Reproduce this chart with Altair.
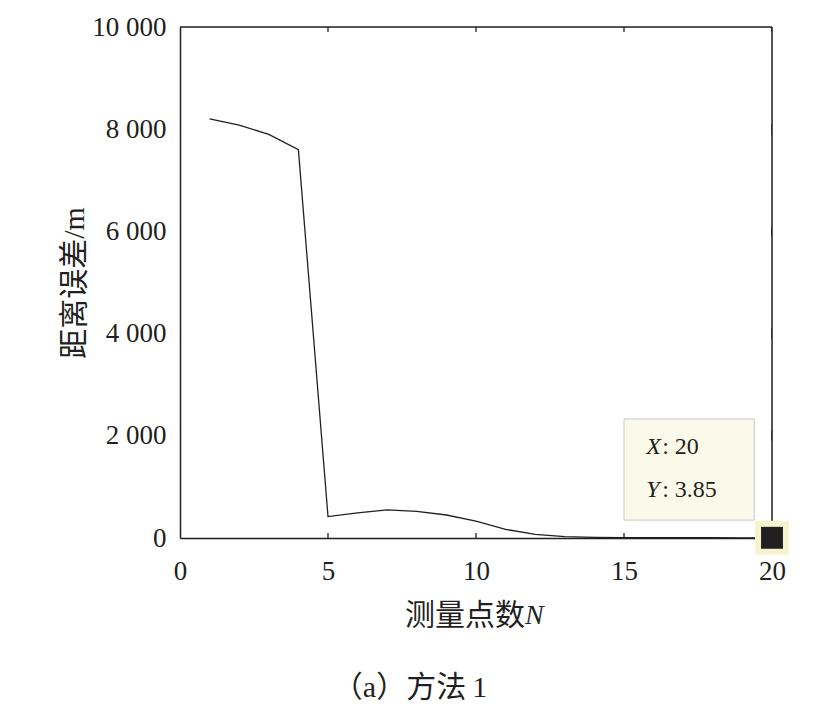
import altair as alt
import pandas as pd

n_points = list(range(1, 21))
dist_err = [8200, 8080, 7900, 7600, 420, 490, 550, 520, 450, 330,
            170, 70, 25, 12, 8, 6, 5, 4.5, 4.2, 3.85]

tip_x = 20
tip_y = 3.85

x_ticks = [0, 5, 10, 15, 20]
y_ticks = [0, 2000, 4000, 6000, 8000, 10000]

FONT = "'Liberation Serif', 'Times New Roman', 'Noto Sans CJK SC'"
INK = "#231f20"

df = pd.DataFrame({"N": n_points, "err": dist_err})
tip = pd.DataFrame({"N": [tip_x], "err": [tip_y]})
box = pd.DataFrame({"x1": [15.0], "x2": [19.4], "y1": [350], "y2": [2330]})
labels = pd.DataFrame({
    "x": [15.75, 15.75],
    "y": [1790, 940],
    "k": ["X", "Y"],
    "v": [": 20", ": 3.85"],
})
xt = pd.DataFrame({"v": x_ticks, "lo": [0] * len(x_ticks), "hi": [10000] * len(x_ticks)})
yt = pd.DataFrame({"v": y_ticks, "lo": [0] * len(y_ticks), "hi": [20] * len(y_ticks)})
frame = pd.DataFrame({"x1": [0, 20], "x2": [20, 20], "y1": [10000, 0], "y2": [10000, 10000]})

xs = alt.Scale(domain=[0, 20], nice=False)
ys = alt.Scale(domain=[0, 10000], nice=False)

fmt = "replace(format(datum.value, ','), ',', ' ')"

line = alt.Chart(df).mark_line(color=INK, strokeWidth=1.3, clip=True).encode(
    x=alt.X("N:Q", scale=xs, axis=alt.Axis(
        values=x_ticks, title=None, ticks=False, domain=True, domainColor=INK,
        domainWidth=1.5, grid=False,
        labelFlush=False, labelPadding=20, labelFontSize=27, labelFont=FONT,
        labelColor=INK)),
    y=alt.Y("err:Q", scale=ys, axis=alt.Axis(
        values=y_ticks, title="距离误差/m", ticks=False, domain=True, domainColor=INK,
        domainWidth=1.5, grid=False,
        labelFlush=False, labelExpr=fmt, labelPadding=14, labelFontSize=27,
        labelFont=FONT, labelColor=INK, titleFont=FONT, titleFontSize=30,
        titleFontWeight="normal", titleColor=INK, titlePadding=2)),
)

# top and right edges of the box
edges = alt.Chart(frame).mark_rule(color=INK, strokeWidth=1.5).encode(
    x=alt.X("x1:Q", scale=xs), x2="x2",
    y=alt.Y("y1:Q", scale=ys), y2="y2",
)

# inward ticks: ticks centred on the frame, outer half clipped away
tick_b = alt.Chart(xt).mark_tick(color=INK, size=10, thickness=1.3, opacity=1, clip=True).encode(
    x=alt.X("v:Q", scale=xs), y=alt.Y("lo:Q", scale=ys))
tick_t = alt.Chart(xt).mark_tick(color=INK, size=10, thickness=1.3, opacity=1, clip=True).encode(
    x=alt.X("v:Q", scale=xs), y=alt.Y("hi:Q", scale=ys))
tick_l = alt.Chart(yt).mark_tick(color=INK, size=10, thickness=1.3, opacity=1, clip=True).encode(
    y=alt.Y("v:Q", scale=ys), x=alt.X("lo:Q", scale=xs))
tick_r = alt.Chart(yt).mark_tick(color=INK, size=10, thickness=1.3, opacity=1, clip=True).encode(
    y=alt.Y("v:Q", scale=ys), x=alt.X("hi:Q", scale=xs))

panel = alt.Chart(box).mark_rect(fill="#fbfaea", stroke="#c9c9c9", strokeWidth=1).encode(
    x=alt.X("x1:Q", scale=xs), x2="x2",
    y=alt.Y("y1:Q", scale=ys), y2="y2",
)

key_txt = alt.Chart(labels).mark_text(
    align="left", baseline="middle", font=FONT, fontSize=24, fontStyle="italic", color=INK
).encode(x=alt.X("x:Q", scale=xs), y=alt.Y("y:Q", scale=ys), text="k:N")

val_txt = alt.Chart(labels).mark_text(
    align="left", baseline="middle", font=FONT, fontSize=24, color=INK, dx=16
).encode(x=alt.X("x:Q", scale=xs), y=alt.Y("y:Q", scale=ys), text="v:N")

halo = alt.Chart(tip).mark_point(
    shape="square", size=1150, filled=True, color="#f6f3cf", opacity=1
).encode(x=alt.X("N:Q", scale=xs), y=alt.Y("err:Q", scale=ys))

marker = alt.Chart(tip).mark_point(
    shape="square", size=480, filled=True, color=INK, opacity=1
).encode(x=alt.X("N:Q", scale=xs), y=alt.Y("err:Q", scale=ys))

x_title = alt.Chart(pd.DataFrame({"t": ["测量点数"]})).mark_text(
    align="right", baseline="middle", font=FONT, fontSize=30, color=INK
).encode(x=alt.value(345), y=alt.value(589), text="t:N")

x_title_n = alt.Chart(pd.DataFrame({"t": ["N"]})).mark_text(
    align="left", baseline="middle", font=FONT, fontSize=28, fontStyle="italic", color=INK
).encode(x=alt.value(345), y=alt.value(589), text="t:N")

chart = alt.layer(
    line, edges, tick_b, tick_t, tick_l, tick_r, panel, key_txt, val_txt, halo, marker,
    x_title, x_title_n
).properties(
    width=592,
    height=511,
    autosize=alt.AutoSizeParams(type="none"),
    padding={"left": 172, "top": 19, "right": 40, "bottom": 170},
    title=alt.TitleParams(
        "（a）方法\u20091", orient="bottom", anchor="middle", font=FONT, fontSize=30,
        fontWeight="normal", color=INK, offset=42, dx=-66,
    ),
).configure_view(stroke=None).configure(background="white")

chart.save("out.html", embed_options={"renderer": "svg", "actions": False})
